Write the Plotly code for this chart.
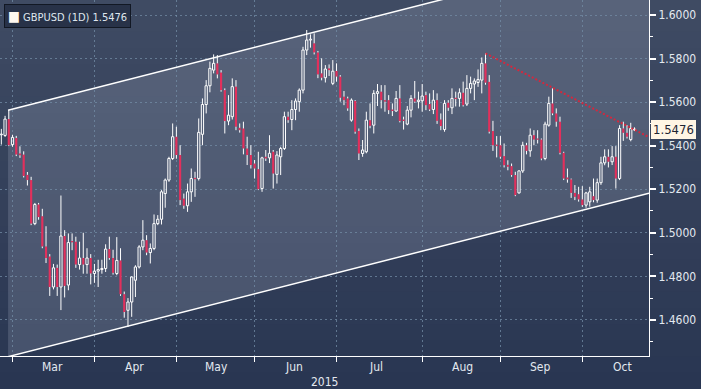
import plotly.graph_objects as go

# ---------------- data ----------------
day_index = list(range(-3, 168))  # trading-day index, 0 = 2 Mar 2015

opens = [1.5450, 1.5447, 1.5522, 1.5405, 1.5435, 1.5364, 1.5359, 1.5266, 1.5242, 1.5042,
         1.5130, 1.5076, 1.4937, 1.4891, 1.4751, 1.4839, 1.4751, 1.4985, 1.4760, 1.4962,
         1.4959, 1.4854, 1.4884, 1.4854, 1.4884, 1.4813, 1.4824, 1.4831, 1.4836, 1.4925,
         1.4884, 1.4813, 1.4873, 1.4718, 1.4644, 1.4682, 1.4782, 1.4843, 1.4935, 1.4966,
         1.4909, 1.4928, 1.5042, 1.5062, 1.5180, 1.5242, 1.5341, 1.5441, 1.5357, 1.5157,
         1.5124, 1.5188, 1.5252, 1.5249, 1.5452, 1.5589, 1.5675, 1.5747, 1.5778, 1.5736,
         1.5655, 1.5513, 1.5533, 1.5671, 1.5482, 1.5479, 1.5387, 1.5357, 1.5318, 1.5292,
         1.5203, 1.5349, 1.5344, 1.5372, 1.5268, 1.5349, 1.5387, 1.5533, 1.5520, 1.5566,
         1.5602, 1.5655, 1.5839, 1.5885, 1.5870, 1.5828, 1.5732, 1.5712, 1.5755, 1.5686,
         1.5743, 1.5717, 1.5625, 1.5617, 1.5517, 1.5605, 1.5467, 1.5364, 1.5372, 1.5517,
         1.5494, 1.5640, 1.5648, 1.5609, 1.5609, 1.5566, 1.5559, 1.5617, 1.5520, 1.5499,
         1.5563, 1.5617, 1.5602, 1.5606, 1.5632, 1.5591, 1.5566, 1.5609, 1.5520, 1.5474,
         1.5597, 1.5574, 1.5620, 1.5617, 1.5643, 1.5591, 1.5663, 1.5683, 1.5690, 1.5701,
         1.5778, 1.5693, 1.5467, 1.5405, 1.5402, 1.5352, 1.5312, 1.5306, 1.5265, 1.5183,
         1.5284, 1.5402, 1.5376, 1.5448, 1.5433, 1.5428, 1.5341, 1.5494, 1.5594, 1.5548,
         1.5510, 1.5367, 1.5254, 1.5245, 1.5183, 1.5177, 1.5153, 1.5127, 1.5142, 1.5168,
         1.5150, 1.5230, 1.5321, 1.5349, 1.5326, 1.5349, 1.5249, 1.5479, 1.5459, 1.5428,
         1.5472]

highs = [1.5477, 1.5537, 1.5563, 1.5450, 1.5445, 1.5397, 1.5374, 1.5279, 1.5257, 1.5137,
         1.5137, 1.5110, 1.5030, 1.4902, 1.4857, 1.4854, 1.5171, 1.5012, 1.4997, 1.4997,
         1.4982, 1.4959, 1.5000, 1.4929, 1.4902, 1.4857, 1.4876, 1.4876, 1.4947, 1.4982,
         1.4922, 1.4980, 1.4929, 1.4730, 1.4700, 1.4800, 1.4851, 1.4943, 1.5058, 1.4989,
         1.4951, 1.5084, 1.5081, 1.5196, 1.5249, 1.5349, 1.5502, 1.5487, 1.5402, 1.5180,
         1.5226, 1.5295, 1.5280, 1.5525, 1.5617, 1.5701, 1.5786, 1.5819, 1.5816, 1.5747,
         1.5663, 1.5632, 1.5709, 1.5701, 1.5502, 1.5510, 1.5441, 1.5402, 1.5334, 1.5372,
         1.5349, 1.5380, 1.5448, 1.5380, 1.5375, 1.5395, 1.5556, 1.5556, 1.5609, 1.5617,
         1.5663, 1.5854, 1.5931, 1.5911, 1.5916, 1.5835, 1.5801, 1.5770, 1.5773, 1.5793,
         1.5778, 1.5724, 1.5651, 1.5625, 1.5617, 1.5609, 1.5479, 1.5426, 1.5556, 1.5594,
         1.5655, 1.5683, 1.5678, 1.5678, 1.5632, 1.5594, 1.5651, 1.5678, 1.5533, 1.5582,
         1.5632, 1.5697, 1.5648, 1.5683, 1.5648, 1.5640, 1.5655, 1.5640, 1.5548, 1.5609,
         1.5609, 1.5663, 1.5648, 1.5663, 1.5694, 1.5724, 1.5717, 1.5709, 1.5750, 1.5805,
         1.5824, 1.5724, 1.5514, 1.5444, 1.5444, 1.5410, 1.5333, 1.5318, 1.5280, 1.5287,
         1.5418, 1.5413, 1.5479, 1.5471, 1.5471, 1.5433, 1.5510, 1.5625, 1.5663, 1.5571,
         1.5533, 1.5372, 1.5295, 1.5249, 1.5219, 1.5211, 1.5214, 1.5188, 1.5211, 1.5249,
         1.5249, 1.5349, 1.5383, 1.5383, 1.5398, 1.5398, 1.5494, 1.5510, 1.5494, 1.5505,
         1.5484]

lows = [1.5405, 1.5440, 1.5398, 1.5395, 1.5352, 1.5344, 1.5254, 1.5217, 1.5035, 1.5035,
        1.5060, 1.4929, 1.4861, 1.4710, 1.4740, 1.4710, 1.4645, 1.4703, 1.4736, 1.4920,
        1.4839, 1.4831, 1.4812, 1.4812, 1.4763, 1.4770, 1.4751, 1.4812, 1.4820, 1.4876,
        1.4808, 1.4805, 1.4710, 1.4610, 1.4567, 1.4614, 1.4705, 1.4836, 1.4920, 1.4897,
        1.4859, 1.4920, 1.5035, 1.5038, 1.5115, 1.5234, 1.5334, 1.5340, 1.5127, 1.5110,
        1.5096, 1.5142, 1.5165, 1.5240, 1.5402, 1.5548, 1.5645, 1.5732, 1.5709, 1.5648,
        1.5456, 1.5494, 1.5520, 1.5471, 1.5460, 1.5360, 1.5311, 1.5295, 1.5249, 1.5196,
        1.5188, 1.5330, 1.5320, 1.5203, 1.5226, 1.5265, 1.5380, 1.5505, 1.5471, 1.5517,
        1.5556, 1.5640, 1.5816, 1.5850, 1.5819, 1.5710, 1.5700, 1.5690, 1.5720, 1.5678,
        1.5694, 1.5602, 1.5586, 1.5560, 1.5510, 1.5455, 1.5334, 1.5349, 1.5365, 1.5480,
        1.5456, 1.5582, 1.5571, 1.5556, 1.5545, 1.5536, 1.5556, 1.5507, 1.5474, 1.5494,
        1.5530, 1.5597, 1.5571, 1.5556, 1.5563, 1.5559, 1.5545, 1.5500, 1.5471, 1.5464,
        1.5560, 1.5545, 1.5580, 1.5579, 1.5580, 1.5582, 1.5640, 1.5609, 1.5670, 1.5640,
        1.5680, 1.5456, 1.5376, 1.5346, 1.5340, 1.5300, 1.5287, 1.5257, 1.5168, 1.5180,
        1.5275, 1.5360, 1.5349, 1.5402, 1.5410, 1.5333, 1.5333, 1.5487, 1.5540, 1.5487,
        1.5360, 1.5242, 1.5230, 1.5160, 1.5150, 1.5143, 1.5119, 1.5115, 1.5120, 1.5140,
        1.5138, 1.5220, 1.5310, 1.5300, 1.5311, 1.5203, 1.5242, 1.5422, 1.5433, 1.5420,
        1.5467]

closes = [1.5453, 1.5522, 1.5402, 1.5438, 1.5359, 1.5356, 1.5261, 1.5242, 1.5042, 1.5130,
          1.5072, 1.4937, 1.4884, 1.4751, 1.4839, 1.4751, 1.4985, 1.4756, 1.4955, 1.4956,
          1.4854, 1.4884, 1.4854, 1.4884, 1.4813, 1.4824, 1.4831, 1.4836, 1.4925, 1.4884,
          1.4816, 1.4873, 1.4718, 1.4636, 1.4682, 1.4797, 1.4843, 1.4935, 1.4966, 1.4909,
          1.4928, 1.5042, 1.5062, 1.5188, 1.5242, 1.5341, 1.5441, 1.5357, 1.5150, 1.5124,
          1.5188, 1.5249, 1.5246, 1.5461, 1.5589, 1.5675, 1.5755, 1.5778, 1.5727, 1.5655,
          1.5513, 1.5540, 1.5671, 1.5487, 1.5471, 1.5387, 1.5357, 1.5311, 1.5295, 1.5200,
          1.5344, 1.5341, 1.5365, 1.5272, 1.5357, 1.5387, 1.5533, 1.5517, 1.5566, 1.5605,
          1.5655, 1.5839, 1.5885, 1.5889, 1.5828, 1.5727, 1.5712, 1.5752, 1.5747, 1.5742,
          1.5717, 1.5620, 1.5609, 1.5571, 1.5609, 1.5464, 1.5364, 1.5380, 1.5517, 1.5491,
          1.5640, 1.5648, 1.5609, 1.5602, 1.5563, 1.5559, 1.5617, 1.5513, 1.5513, 1.5563,
          1.5617, 1.5602, 1.5609, 1.5628, 1.5586, 1.5566, 1.5609, 1.5514, 1.5490, 1.5594,
          1.5574, 1.5617, 1.5614, 1.5643, 1.5586, 1.5663, 1.5686, 1.5697, 1.5704, 1.5778,
          1.5689, 1.5464, 1.5402, 1.5398, 1.5349, 1.5310, 1.5303, 1.5265, 1.5173, 1.5284,
          1.5402, 1.5376, 1.5448, 1.5428, 1.5427, 1.5341, 1.5499, 1.5594, 1.5548, 1.5510,
          1.5367, 1.5249, 1.5245, 1.5183, 1.5165, 1.5153, 1.5127, 1.5183, 1.5188, 1.5150,
          1.5230, 1.5321, 1.5349, 1.5326, 1.5349, 1.5249, 1.5479, 1.5459, 1.5441, 1.5479,
          1.5476]

# month boundaries (trading-day index of first day) and labels
month_start_idx = [0, 22, 44, 65, 87, 110, 131, 153]
month_labels = ["Mar", "Apr", "May", "Jun", "Jul", "Aug", "Sep", "Oct"]
year_label = "2015"

# price axis ticks
price_ticks = [1.46, 1.48, 1.50, 1.52, 1.54, 1.56, 1.58, 1.60]

# trend channel (drawn trend lines) and red resistance line
channel_x = [-1.2, 170.9]
channel_upper = [1.5563, 1.6313]
channel_lower = [1.4431, 1.5181]
resist_x = [127, 170.9]
resist_y = [1.5824, 1.5439]

series_name = "GBPUSD (1D)"
last_price = closes[-1]

# ---------------- styling ----------------
RED = "#e2305c"
WHITE = "#ffffff"
TXT = "#e3e9f0"
FONT = "DejaVu Sans Condensed, Liberation Sans, Arial, sans-serif"

X_RANGE = [-3.36, 170.9]
Y_RANGE = [1.44341, 1.60689]

fig = go.Figure()

# wicks (split so hollow bodies stay hollow)
wx, wy = [], []
for i, o, h, l, c in zip(day_index, opens, highs, lows, closes):
    top, bot = max(o, c), min(o, c)
    wx += [i, i, None, i, i, None]
    wy += [h, top, None, bot, l, None]
fig.add_trace(go.Scatter(x=wx, y=wy, mode="lines", line=dict(color=WHITE, width=1),
                         hoverinfo="skip", showlegend=False))

MIN_BODY = 0.00025
up = [(i, o, c) for i, o, c in zip(day_index, opens, closes) if c >= o]
dn = [(i, o, c) for i, o, c in zip(day_index, opens, closes) if c < o]

fig.add_trace(go.Bar(
    x=[u[0] for u in up], base=[min(u[1], u[2]) for u in up],
    y=[max(abs(u[2] - u[1]), MIN_BODY) for u in up], width=0.6,
    marker=dict(color="rgba(0,0,0,0)", line=dict(color=WHITE, width=1)),
    hoverinfo="skip", showlegend=False))
fig.add_trace(go.Bar(
    x=[d[0] for d in dn], base=[min(d[1], d[2]) for d in dn],
    y=[max(abs(d[2] - d[1]), MIN_BODY) for d in dn], width=0.58,
    marker=dict(color=RED, line=dict(width=0)),
    hoverinfo="skip", showlegend=False))

# channel lines
for ys in (channel_upper, channel_lower):
    fig.add_trace(go.Scatter(x=channel_x, y=ys, mode="lines",
                             line=dict(color=WHITE, width=1.5),
                             hoverinfo="skip", showlegend=False))

# resistance line
fig.add_trace(go.Scatter(x=resist_x, y=resist_y, mode="lines",
                         line=dict(color="#d3283e", width=2, dash="2px,2px"),
                         hoverinfo="skip", showlegend=False))

# ---------------- background gradient + channel fill ----------------
shapes = []
n_bands = 24
top_c = (63, 75, 99)
bot_c = (41, 54, 82)
y_lo, y_hi = -0.095, 1.0
for k in range(n_bands):
    t = k / (n_bands - 1)
    col = tuple(round(top_c[j] + (bot_c[j] - top_c[j]) * t) for j in range(3))
    y1 = y_hi - (y_hi - y_lo) * k / n_bands
    y0 = y_hi - (y_hi - y_lo) * (k + 1) / n_bands
    shapes.append(dict(type="rect", xref="paper", yref="paper", x0=-0.01, x1=1.1,
                       y0=y0 - 0.002, y1=y1 + 0.002 if k else 1.01, layer="below",
                       line=dict(width=0), fillcolor="rgb(%d,%d,%d)" % col))
path = "M %f,%f L %f,%f L %f,%f L %f,%f Z" % (
    channel_x[0], channel_upper[0], channel_x[1], channel_upper[1],
    channel_x[1], channel_lower[1], channel_x[0], channel_lower[0])
shapes.append(dict(type="path", xref="x", yref="y", path=path, layer="below",
                   line=dict(width=0), fillcolor="rgba(215,222,235,0.17)"))

# ---------------- annotations ----------------
ann = []
for idx, lab in zip(month_start_idx, month_labels):
    ann.append(dict(x=idx + 10.7, y=-0.031, xref="x", yref="paper", text=lab,
                    showarrow=False, font=dict(family=FONT, size=12, color=TXT),
                    xanchor="center", yanchor="middle"))
ann.append(dict(x=0.5, y=-0.073, xref="paper", yref="paper", text=year_label,
                showarrow=False, font=dict(family=FONT, size=12, color=TXT),
                xanchor="center", yanchor="middle"))
ann.append(dict(x=0.006, y=0.989, xref="paper", yref="paper",
                text="<span style='font-size:14px;color:#fff8f0'>■</span> %s %.4f" % (series_name, last_price),
                showarrow=False, align="left", xanchor="left", yanchor="top",
                font=dict(family=FONT, size=11, color="#dfe6ee"),
                bgcolor="rgb(40,50,72)", bordercolor="rgb(18,24,36)", borderwidth=1,
                borderpad=3))
ann.append(dict(x=1.003, y=last_price, xref="paper", yref="y", text="%.4f" % last_price,
                showarrow=False, xanchor="left", yanchor="middle",
                font=dict(family=FONT, size=13, color="#1d2433"),
                bgcolor="#fff5e4", bordercolor="#fff5e4", borderwidth=1, borderpad=1))

grid_col = "rgba(115,140,165,0.75)"

fig.update_layout(
    width=701, height=389,
    margin=dict(l=0, r=52, t=0, b=33),
    paper_bgcolor="rgb(44,57,85)",
    plot_bgcolor="rgba(0,0,0,0)",
    barmode="overlay",
    showlegend=False,
    shapes=shapes,
    annotations=ann,
    xaxis=dict(range=X_RANGE, tickmode="array", tickvals=month_start_idx,
               ticktext=[""] * len(month_start_idx), showticklabels=False,
               ticks="outside", ticklen=5, tickcolor=WHITE, tickwidth=1,
               showgrid=True, gridcolor=grid_col, griddash="2px,3px", gridwidth=1,
               showline=True, linecolor=WHITE, linewidth=1, zeroline=False,
               fixedrange=True),
    yaxis=dict(range=Y_RANGE, side="right", tickmode="array", tickvals=price_ticks,
               ticktext=["%.4f" % v for v in price_ticks],
               ticks="outside", ticklen=6, tickwidth=2, tickcolor=WHITE,
               tickfont=dict(family=FONT, size=12, color=TXT),
               minor=dict(dtick=0.01, tick0=1.45, ticks="outside", ticklen=3,
                          tickcolor=WHITE, tickwidth=1, showgrid=False),
               showgrid=True, gridcolor=grid_col, griddash="2px,3px", gridwidth=1,
               showline=True, linecolor=WHITE, linewidth=1, zeroline=False,
               fixedrange=True),
)

fig.write_html(
    "out.html",
    config={"displayModeBar": False, "staticPlot": True},
    post_script="document.documentElement.style.margin='0';document.body.style.margin='0';"
                "document.documentElement.style.overflow='hidden';document.body.style.overflow='hidden';",
)
